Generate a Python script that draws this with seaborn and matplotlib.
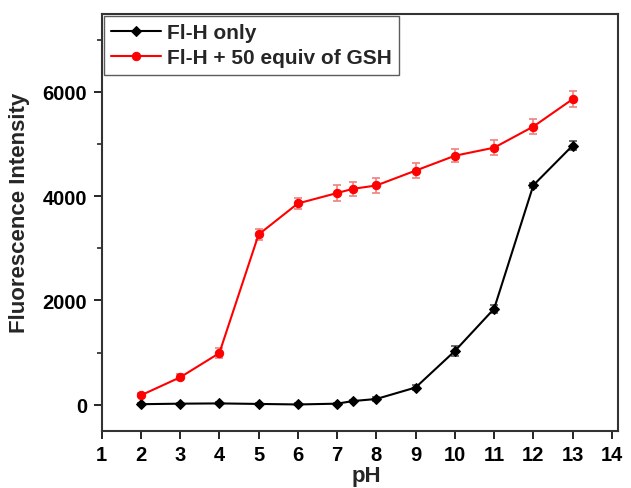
import numpy as np
import pandas as pd
import matplotlib
matplotlib.use("Agg")
import matplotlib.pyplot as plt
import seaborn as sns
from matplotlib.ticker import MultipleLocator

ph = [2, 3, 4, 5, 6, 7, 7.4, 8, 9, 10, 11, 12, 13]
fl_only = [10, 20, 25, 15, 5, 20, 70, 110, 330, 1030, 1840, 4210, 4970]
fl_only_err = [20, 20, 20, 20, 20, 20, 20, 30, 40, 90, 80, 50, 80]
fl_gsh = [180, 525, 990, 3265, 3860, 4060, 4140, 4205, 4490, 4775, 4930, 5335, 5860]
fl_gsh_err = [40, 60, 90, 100, 110, 160, 140, 140, 140, 120, 140, 150, 150]
labels = ["Fl-H only", "Fl-H + 50 equiv of GSH"]

sns.set_style("ticks")
plt.rcParams["font.family"] = ["Liberation Sans", "DejaVu Sans"]
plt.rcParams["font.weight"] = "bold"

fig = plt.figure(figsize=(6.31, 4.89), dpi=100)
ax = fig.add_axes([0.161, 0.117, 0.818, 0.853])

df1 = pd.DataFrame({"pH": ph, "I": fl_only})
df2 = pd.DataFrame({"pH": ph, "I": fl_gsh})

ax.errorbar(ph, fl_only, yerr=fl_only_err, fmt="none", ecolor="#555555",
            elinewidth=1.2, capsize=3, capthick=1.2, zorder=2)
ax.errorbar(ph, fl_gsh, yerr=fl_gsh_err, fmt="none", ecolor="#f08080",
            elinewidth=1.2, capsize=3, capthick=1.2, zorder=2)

sns.lineplot(data=df1, x="pH", y="I", ax=ax, color="black", marker="D",
             markersize=5.5, markeredgecolor="black", linewidth=1.5,
             label=labels[0], zorder=3)
sns.lineplot(data=df2, x="pH", y="I", ax=ax, color="#ff0000", marker="o",
             markersize=6, markeredgecolor="#ff0000", linewidth=1.5,
             label=labels[1], zorder=3)

ax.set_xlim(1, 14.15)
ax.set_ylim(-500, 7500)
ax.set_xticks(range(1, 15))
ax.set_yticks([0, 2000, 4000, 6000])
ax.yaxis.set_minor_locator(MultipleLocator(1000))
ax.tick_params(axis="both", which="major", direction="out", length=6, width=1.2,
               labelsize=14.5, colors="black", pad=4.5)
ax.tick_params(axis="y", which="minor", direction="out", length=3.5, width=1.2)
for lab in ax.get_xticklabels() + ax.get_yticklabels():
    lab.set_fontweight("bold")

for s in ax.spines.values():
    s.set_visible(True)
    s.set_linewidth(1.5)
    s.set_color("#333333")

ax.set_xlabel("pH", fontsize=16, fontweight="bold")
ax.set_ylabel("Fluorescence Intensity", fontsize=16, fontweight="bold")
ax.xaxis.set_label_coords(0.513, -0.083)
ax.yaxis.set_label_coords(-0.138, 0.526)

leg = ax.legend(loc="upper left", fontsize=15, frameon=True, fancybox=False,
                borderaxespad=0.1, handlelength=2.4, borderpad=0.35,
                labelspacing=0.3, handletextpad=0.3)
leg.get_frame().set_edgecolor("#333333")
leg.get_frame().set_linewidth(1.0)
for t in leg.get_texts():
    t.set_fontweight("bold")

fig.savefig("out.png", dpi=100)
